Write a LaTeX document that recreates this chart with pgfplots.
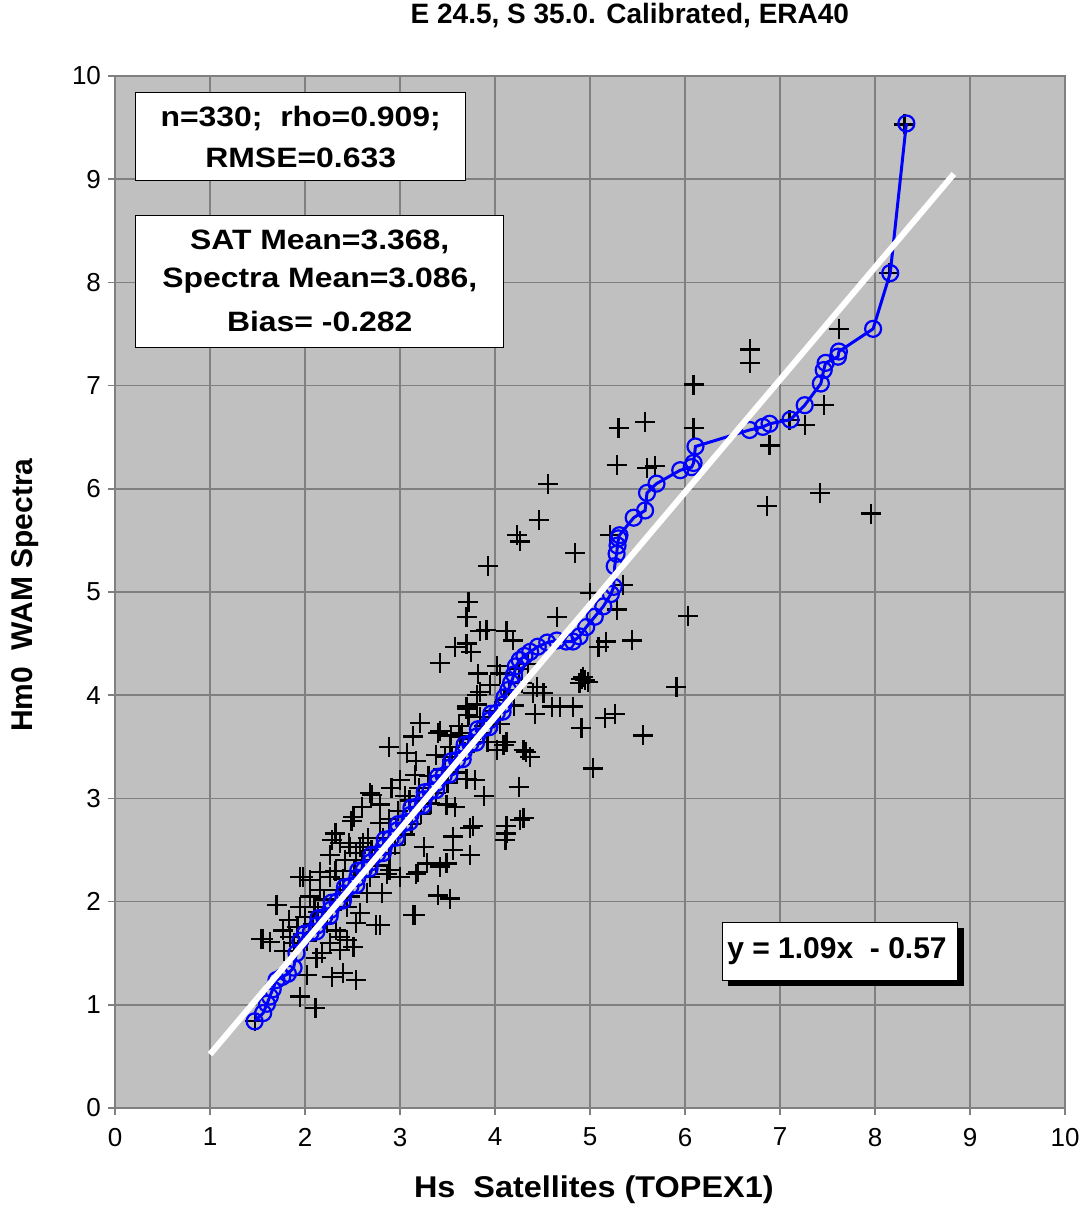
\documentclass[border=0pt]{standalone}
\usepackage{pgfplots}
\pgfplotsset{compat=1.18}
\usepackage{fontspec}
\setmainfont{Liberation Sans}
\newfontfamily\boxfont[FakeStretch=1.14]{Liberation Sans}
\newfontfamily\labfont[FakeStretch=1.08]{Liberation Sans}
\definecolor{plotbg}{HTML}{C0C0C0}
\definecolor{gridc}{HTML}{808080}
\definecolor{qqblue}{HTML}{0000FF}

\begin{document}
\begin{tikzpicture}
\path[use as bounding box] (-57.5pt,-50.5pt) rectangle (485pt,554pt);
\begin{axis}[
  scale only axis, width=475pt, height=516pt,
  at={(0pt,0pt)}, anchor=south west,
  clip marker paths=true,
  xmin=0, xmax=10, ymin=0, ymax=10,
  xtick={0,...,10}, ytick={0,...,10},
  grid=major,
  grid style={draw=gridc, line width=0.8pt},
  axis background/.style={fill=plotbg},
  axis line style={draw=gridc, line width=0.8pt},
  tick align=outside, tick pos=left, major tick length=3.5pt,
  tick style={draw=gridc, line width=0.8pt},
  ticklabel style={font=\fontsize{13}{15}\selectfont},
  xticklabel style={yshift=-3pt},
  /pgf/number format/assume math mode=true,
  title={E 24.5, S 35.0. Calibrated, ERA40},
  title style={font=\bfseries\fontsize{14}{17}\selectfont, at={(axis description cs:0.542,1.0465)}, anchor=center},
  xlabel={Hs\ \ Satellites (TOPEX1)},
  xlabel style={font=\labfont\bfseries\fontsize{15}{18}\selectfont, at={(axis description cs:0.504,-0.0795)}, anchor=center},
  ylabel={Hm0\ \ WAM Spectra},
  ylabel style={font=\bfseries\fontsize{15}{18}\selectfont, at={(axis description cs:-0.0947,0.497)}, anchor=center},
]
% scatter: satellite Hs vs model Hm0
\addplot[only marks, mark=+, mark size=5pt, mark options={line width=1.1pt, draw=black}] coordinates {
(8.31,9.53) (8.15,8.09) (7.62,7.55) (6.68,7.35) (6.68,7.22) (6.09,7.01)
(7.46,6.81) (7.26,6.62) (7.10,6.67) (6.89,6.42) (6.09,6.59) (5.30,6.59)
(5.58,6.65) (5.28,6.23) (5.60,6.20) (5.68,6.22) (4.56,6.05) (4.46,5.70)
(4.23,5.55) (4.26,5.49) (3.93,5.25) (4.84,5.38) (5.21,5.55) (7.42,5.96)
(6.86,5.83) (7.96,5.76) (5.00,4.99) (5.35,5.07) (5.28,4.83) (4.65,4.76)
(3.72,4.90) (3.70,4.76) (6.03,4.77) (3.84,4.62) (3.58,4.47) (3.70,4.50)
(3.75,4.42) (3.42,4.31) (4.12,4.62) (4.19,4.53) (3.82,4.21) (4.02,4.28)
(4.05,4.21) (3.95,4.10) (3.84,4.03) (5.09,4.47) (5.17,4.52) (5.44,4.53)
(4.91,4.16) (4.98,4.13) (5.91,4.08) (4.82,3.89) (5.16,3.78) (5.26,3.82)
(4.91,3.68) (5.56,3.61) (5.03,3.29) (4.68,3.89) (4.44,4.08) (4.51,4.02)
(4.60,3.89) (4.42,3.82) (3.70,3.89) (3.81,3.91) (3.72,3.81) (3.84,3.79)
(3.21,3.73) (3.40,3.63) (3.54,3.61) (3.63,3.60) (3.14,3.60) (3.53,3.50)
(4.12,3.55) (4.02,3.47) (4.33,3.45) (3.07,3.44) (3.81,4.00) (3.70,3.87)
(3.42,3.65) (3.65,3.63) (2.88,3.50) (3.38,3.42) (3.47,3.40) (3.17,3.36)
(4.09,3.52) (4.30,3.47) (3.16,3.23) (3.00,3.18) (2.91,3.10) (2.68,3.05)
(3.05,3.02) (3.70,3.19) (3.79,3.18) (3.88,3.02) (4.25,3.11) (2.60,2.92)
(2.79,2.94) (3.49,2.94) (3.58,2.92) (2.51,2.82) (2.79,2.76) (3.77,2.73)
(4.12,2.73) (4.26,2.79) (4.30,2.81) (2.32,2.66) (2.46,2.57) (2.58,2.53)
(3.56,2.63) (3.56,2.50) (3.74,2.45) (3.49,2.37) (4.12,2.66) (4.11,2.60)
(2.89,2.31) (3.19,2.29) (2.68,2.24) (3.25,2.53) (3.28,2.37) (3.42,2.34)
(3.40,2.06) (3.53,2.03) (3.16,1.87) (2.79,1.77) (4.37,3.40) (4.28,4.12)
(4.40,4.02) (4.89,4.12) (4.93,4.18) (4.95,4.15) (3.74,2.71) (2.70,3.03)
(2.49,2.78) (2.28,2.60) (1.98,2.24) (1.70,1.97) (1.54,1.64) (1.47,0.84)
(2.11,0.97) (1.95,1.08) (2.54,1.24) (2.40,1.31) (2.28,1.27) (2.02,1.29)
(2.12,1.45) (2.18,1.50) (1.56,1.64) (1.63,1.61) (1.77,1.72) (1.84,1.66)
(1.83,1.82) (1.95,1.95) (2.00,1.85) (1.95,2.24) (2.16,2.29) (2.26,2.24)
(2.05,2.05) (2.14,1.90) (2.23,1.79) (2.33,1.72) (2.44,1.63) (2.51,1.56)
(2.26,1.60) (2.37,1.53) (2.44,1.95) (2.58,1.89) (2.65,2.08) (2.75,1.77)
(2.81,2.08) (2.86,2.27) (3.14,1.87) (3.17,2.27) (3.00,2.24) (2.89,2.47)
(2.47,2.53) (2.26,2.45) (2.54,2.47) (2.37,2.57) (2.61,2.57) (2.05,2.21)
(2.37,2.11) (2.47,2.05) (2.54,1.79) (2.37,1.66) (2.16,2.11) (3.91,4.63)
(1.78,1.52) (1.88,1.60) (1.92,1.75) (2.02,1.62) (2.08,1.78) (2.10,1.95)
(2.20,2.02) (2.28,1.92) (2.32,2.30) (2.40,2.22) (2.42,2.40) (2.52,2.30)
(2.60,2.40) (2.66,2.62) (2.70,2.50) (2.75,2.35) (2.82,2.62) (2.88,2.80)
(2.95,2.55) (2.98,2.88) (3.05,2.65) (3.10,2.98) (3.12,2.75) (3.20,3.10)
(3.22,2.85) (3.30,3.22) (3.32,2.95) (3.38,3.05) (3.45,3.28) (3.50,3.15)
(3.55,3.40) (3.60,3.25) (3.62,3.70) (3.68,3.45) (3.75,3.58) (3.88,3.70)
(3.92,3.55) (4.00,3.85) (4.05,3.72) (4.10,3.95) (4.15,4.05) (4.20,3.90)
(4.25,4.25) (4.35,4.30)
};
% Q-Q line
\addplot[qqblue, line width=1.5pt, mark=o, mark size=4pt, mark options={line width=1.1pt, draw=qqblue}] coordinates {
(1.47,0.84) (1.56,0.92) (1.60,1.01) (1.63,1.08) (1.66,1.15) (1.70,1.24)
(1.76,1.27) (1.82,1.30) (1.88,1.36) (1.91,1.50) (1.95,1.62)
(2.00,1.69) (2.06,1.70) (2.12,1.71) (2.13,1.77)
(2.14,1.84) (2.20,1.85) (2.26,1.86) (2.27,1.92)
(2.28,1.99) (2.34,2.00) (2.40,2.01) (2.41,2.08)
(2.42,2.14) (2.48,2.15) (2.54,2.16) (2.55,2.23)
(2.56,2.30) (2.62,2.31) (2.68,2.32) (2.69,2.38)
(2.70,2.45) (2.76,2.46) (2.82,2.47) (2.83,2.53)
(2.84,2.60) (2.90,2.61) (2.96,2.62) (2.97,2.69)
(2.98,2.75) (3.04,2.76) (3.10,2.77) (3.11,2.84)
(3.12,2.91) (3.18,2.92) (3.24,2.93) (3.25,2.99)
(3.26,3.06) (3.32,3.07) (3.38,3.08) (3.39,3.15)
(3.40,3.21) (3.46,3.22) (3.52,3.23) (3.53,3.30)
(3.54,3.36) (3.60,3.37) (3.66,3.38) (3.67,3.45)
(3.68,3.52) (3.74,3.53) (3.80,3.54) (3.81,3.60)
(3.82,3.67) (3.88,3.68) (3.94,3.69) (3.95,3.76)
(3.96,3.82) (4.02,3.83) (4.08,3.84) (4.09,3.91)
(4.10,3.98) (4.14,4.05) (4.17,4.12) (4.20,4.20) (4.22,4.28) (4.26,4.34)
(4.31,4.38) (4.37,4.42) (4.45,4.47) (4.55,4.51) (4.65,4.53) (4.75,4.52)
(4.82,4.52) (4.89,4.57) (4.96,4.66) (5.05,4.76) (5.14,4.86) (5.22,4.98)
(5.25,5.05) (5.26,5.25) (5.28,5.37) (5.29,5.45) (5.30,5.52) (5.31,5.55)
(5.46,5.72) (5.58,5.79) (5.60,5.96) (5.70,6.05) (5.95,6.18) (6.07,6.21)
(6.09,6.25) (6.11,6.41) (6.68,6.57) (6.82,6.60) (6.89,6.63) (7.11,6.67)
(7.26,6.81) (7.43,7.02) (7.46,7.15) (7.48,7.22) (7.61,7.28) (7.62,7.33)
(7.98,7.55) (8.16,8.09) (8.33,9.54)
};
% regression line y = 1.09x - 0.57
\addplot[white, line width=3pt] coordinates {(1.0,0.52) (8.83,9.05)};

% annotation boxes
\draw[fill=white, draw=black, line width=0.5pt] (axis cs:0.22,8.99) rectangle (axis cs:3.69,9.84);
\node[font=\boxfont\bfseries\fontsize{14}{16}\selectfont] at (axis cs:1.955,9.59) {n=330;\ \ rho=0.909;};
\node[font=\boxfont\bfseries\fontsize{14}{16}\selectfont] at (axis cs:1.955,9.21) {RMSE=0.633};

\draw[fill=white, draw=black, line width=0.5pt] (axis cs:0.22,7.37) rectangle (axis cs:4.09,8.65);
\node[font=\boxfont\bfseries\fontsize{14}{16}\selectfont] at (axis cs:2.155,8.39) {SAT Mean=3.368,};
\node[font=\boxfont\bfseries\fontsize{14}{16}\selectfont] at (axis cs:2.155,8.02) {Spectra Mean=3.086,};
\node[font=\boxfont\bfseries\fontsize{14}{16}\selectfont] at (axis cs:2.155,7.62) {Bias= -0.282};

\fill[black] ([xshift=3pt,yshift=-3pt]axis cs:6.39,1.24) rectangle ([xshift=3pt,yshift=-3pt]axis cs:8.87,1.80);
\draw[fill=white, draw=black, line width=0.5pt] (axis cs:6.39,1.24) rectangle (axis cs:8.87,1.80);
\node[font=\bfseries\fontsize{15}{17}\selectfont] at (axis cs:7.60,1.52) {y = 1.09x\ \ - 0.57};
\end{axis}
\end{tikzpicture}
\end{document}
